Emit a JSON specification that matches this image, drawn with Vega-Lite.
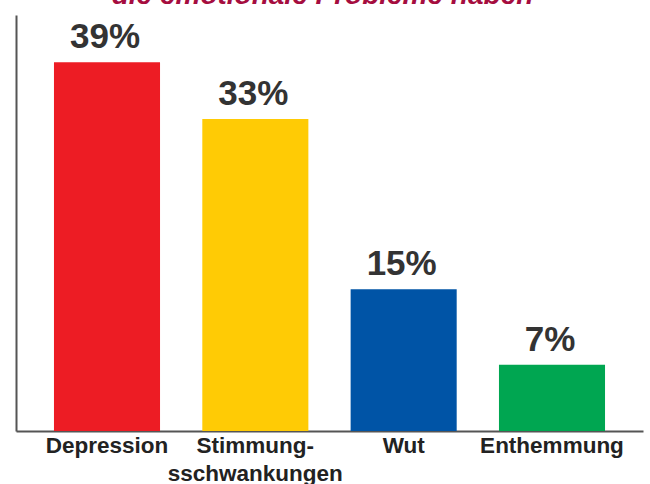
{
  "$schema": "https://vega.github.io/schema/vega-lite/v6.json",
  "width": 627,
  "height": 416,
  "autosize": {"type": "none"},
  "padding": {"left": 16, "top": 15, "right": 7, "bottom": 53},
  "background": "white",
  "title": {
    "text": "die emotionale Probleme haben",
    "font": "Liberation Sans",
    "fontSize": 28,
    "fontWeight": "bold",
    "fontStyle": "italic",
    "color": "#a50d3f",
    "anchor": "middle",
    "baseline": "alphabetic",
    "offset": 0,
    "dx": -7,
    "dy": 17
  },
  "data": {
    "values": [
      {"kategorie": "Depression", "prozent": 39, "label": "39%"},
      {"kategorie": "Stimmungsschwankungen", "prozent": 33, "label": "33%"},
      {"kategorie": "Wut", "prozent": 15, "label": "15%"},
      {"kategorie": "Enthemmung", "prozent": 7, "label": "7%"}
    ]
  },
  "encoding": {
    "x": {
      "field": "kategorie",
      "type": "nominal",
      "sort": null,
      "scale": {"paddingInner": 0.285, "paddingOuter": 0.256},
      "axis": {
        "title": null,
        "labelAngle": 0,
        "labelFont": "Liberation Sans",
        "labelFontSize": 22.5,
        "labelFontWeight": "bold",
        "labelColor": "#222222",
        "labelPadding": 3,
        "labelLineHeight": 28,
        "labelExpr": "datum.value == 'Stimmungsschwankungen' ? ['Stimmung-', 'sschwankungen'] : datum.value",
        "ticks": false,
        "domainColor": "#555555",
        "domainWidth": 2
      }
    },
    "y": {
      "field": "prozent",
      "type": "quantitative",
      "scale": {"domain": [0, 44], "nice": false},
      "axis": {
        "title": null,
        "labels": false,
        "ticks": false,
        "grid": false,
        "domainColor": "#555555",
        "domainWidth": 2
      }
    }
  },
  "layer": [
    {
      "mark": {"type": "bar"},
      "encoding": {
        "color": {
          "field": "kategorie",
          "type": "nominal",
          "sort": null,
          "scale": {
            "domain": ["Depression", "Stimmungsschwankungen", "Wut", "Enthemmung"],
            "range": ["#ed1c24", "#ffcb05", "#0054a6", "#00a651"]
          },
          "legend": null
        }
      }
    },
    {
      "mark": {
        "type": "text",
        "font": "Liberation Sans",
        "fontSize": 35,
        "fontWeight": "bold",
        "color": "#333333",
        "baseline": "alphabetic",
        "dy": -14,
        "dx": -2
      },
      "encoding": {
        "text": {"field": "label", "type": "nominal"}
      }
    }
  ],
  "config": {"view": {"stroke": null}}
}
